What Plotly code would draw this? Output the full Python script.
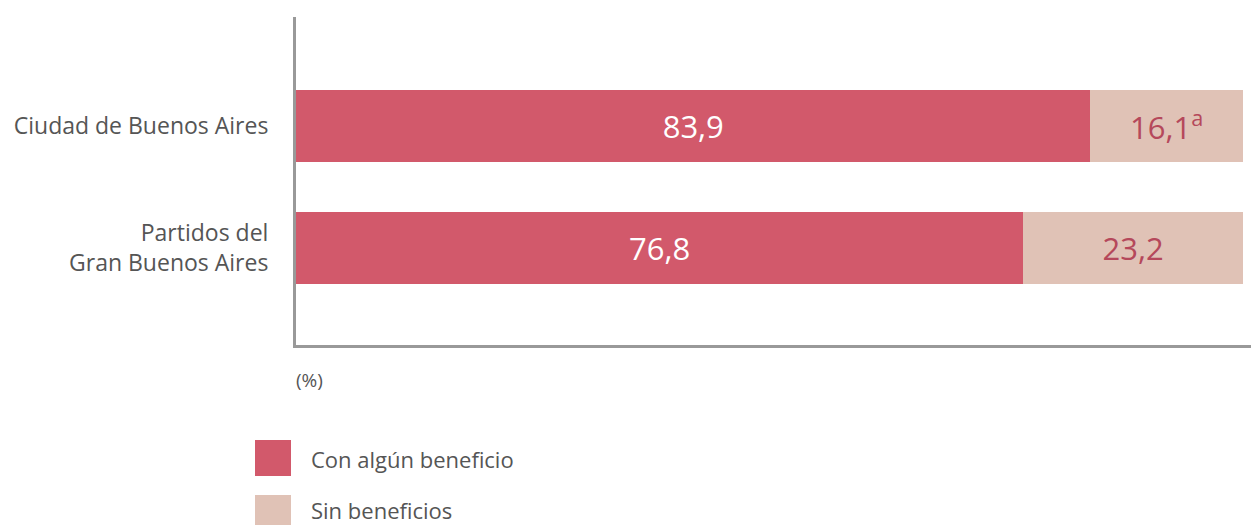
import plotly.graph_objects as go

categories = ["Partidos del<br>Gran Buenos Aires", "Ciudad de Buenos Aires"]
con_beneficio = [76.8, 83.9]
sin_beneficio = [23.2, 16.1]
sin_notes = ["", "<sup>a</sup>"]
series_names = ["Con algún beneficio", "Sin beneficios"]

RED = "#d2596b"
PINK = "#e0c2b6"
GREY = "#555555"
FONT = "Open Sans"

fmt = lambda v: f"{v:.1f}".replace(".", ",")

fig = go.Figure()
fig.add_trace(go.Bar(
    y=categories, x=con_beneficio, orientation="h", name=series_names[0],
    marker=dict(color=RED, line=dict(width=0)), width=0.59,
    text=[fmt(v) for v in con_beneficio], textposition="inside",
    insidetextanchor="middle", textangle=0,
    textfont=dict(color="white", size=31, family=FONT),
))
fig.add_trace(go.Bar(
    y=categories, x=sin_beneficio, orientation="h", name=series_names[1],
    marker=dict(color=PINK, line=dict(width=0)), width=0.59,
    text=[fmt(v) + n for v, n in zip(sin_beneficio, sin_notes)],
    textposition="inside", insidetextanchor="middle", textangle=0,
    textfont=dict(color="#b5485b", size=31, family=FONT),
))

# manual legend (big squares below the chart)
W, H = 955.0, 328.0
px = lambda x: (x - 296) / W
py = lambda y: (345 - y) / H
shapes = []
annotations = []
for i, (name, col) in enumerate(zip(series_names, [RED, PINK])):
    top = 440 + i * 55
    shapes.append(dict(type="rect", xref="paper", yref="paper",
                       x0=px(255), x1=px(291), y0=py(top + 36), y1=py(top),
                       fillcolor=col, line=dict(width=0), layer="above"))
    annotations.append(dict(xref="paper", yref="paper", x=px(309), y=py(top + 19 - 4 * i),
                            text=name, showarrow=False, xanchor="left", yanchor="middle",
                            font=dict(size=22, color=GREY, family=FONT)))
annotations.append(dict(xref="paper", yref="paper", x=px(294), y=py(380),
                        text="(%)", showarrow=False, xanchor="left", yanchor="middle",
                        font=dict(size=19, color=GREY, family=FONT)))

fig.update_layout(
    barmode="stack", width=1251, height=525,
    margin=dict(l=296, r=0, t=17, b=180),
    paper_bgcolor="white", plot_bgcolor="white",
    showlegend=False, uniformtext=dict(mode=False),
    font=dict(family=FONT, color=GREY),
    shapes=shapes, annotations=annotations,
    xaxis=dict(range=[0, 100.85], showgrid=False, zeroline=False,
               showticklabels=False, ticks="", showline=True,
               linecolor="#999999", linewidth=3, fixedrange=True),
    yaxis=dict(type="category", categoryorder="array", categoryarray=categories,
               range=[-0.795, 1.893], showgrid=False, zeroline=False,
               showline=True, linecolor="#999999", linewidth=3, ticks="",
               ticklabelstandoff=20, tickfont=dict(size=23, color=GREY, family=FONT)),
)

fig.write_html("out.html", config={"displayModeBar": False},
               post_script="document.body.style.margin='0';")
